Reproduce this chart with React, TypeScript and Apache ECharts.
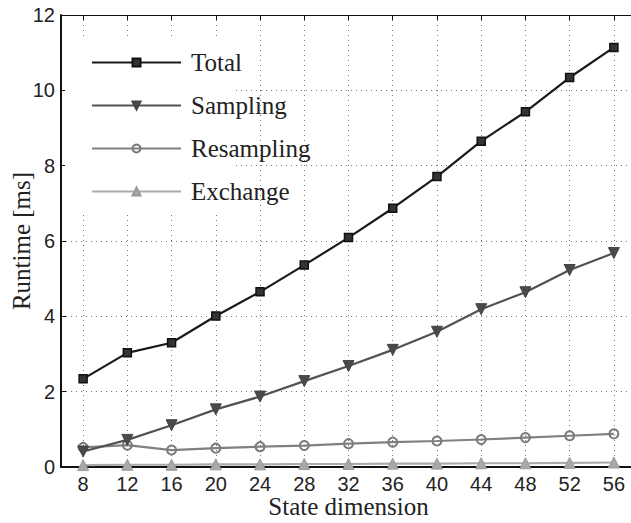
import React, { useEffect, useRef } from "react";
import * as echarts from "echarts";

const xTicks = [8, 12, 16, 20, 24, 28, 32, 36, 40, 44, 48, 52, 56];
const totalVals = [2.34, 3.03, 3.3, 4.01, 4.65, 5.36, 6.09, 6.87, 7.71, 8.65, 9.43, 10.34, 11.14];
const samplingVals = [0.41, 0.72, 1.11, 1.53, 1.87, 2.28, 2.68, 3.11, 3.59, 4.19, 4.64, 5.23, 5.68];
const resamplingVals = [0.52, 0.58, 0.45, 0.5, 0.54, 0.57, 0.62, 0.66, 0.69, 0.73, 0.78, 0.83, 0.88];
const exchangeVals = [0.05, 0.06, 0.06, 0.07, 0.07, 0.08, 0.08, 0.09, 0.09, 0.1, 0.1, 0.11, 0.12];
const seriesNames = ["Total", "Sampling", "Resampling", "Exchange"];

const pair = (vals: number[]) => xTicks.map((x, i) => [x, vals[i]]);

export default function App() {
  const ref = useRef<HTMLDivElement>(null);
  useEffect(() => {
    if (!ref.current) return;
    const chart = echarts.init(ref.current, undefined, { renderer: "svg" });
    const serif = "Liberation Serif";
    const sans = "Liberation Sans";
    const gridLine = { show: true, lineStyle: { color: "#777", type: [1, 4] as any, width: 1 } };
    const baseX = {
      type: "value" as const,
      min: 6,
      max: 58,
      axisLine: { show: true, lineStyle: { color: "#111", width: 2 } },
      axisTick: { show: true, inside: true, length: 5, customValues: xTicks, lineStyle: { color: "#111", width: 1 } },
      splitLine: { show: false },
    };
    chart.setOption({
      animation: false,
      backgroundColor: "#fff",
      grid: { left: 61, top: 15, width: 575, height: 452, containLabel: false, outerBoundsMode: "none" },
      xAxis: [
        {
          ...baseX,
          position: "bottom",
          name: "State dimension",
          nameLocation: "middle",
          nameGap: 27,
          nameMoveOverlap: false,
          nameTextStyle: { fontFamily: serif, fontSize: 25, color: "#222" },
          axisLabel: { show: true, customValues: xTicks, margin: 7, fontFamily: sans, fontSize: 20, color: "#222" },
          splitLine: gridLine,
        },
        {
          ...baseX,
          position: "top",
          axisLine: { show: true, lineStyle: { color: "#111", width: 1.2 } },
          axisLabel: { show: false },
        },
      ],
      yAxis: {
        type: "value",
        min: 0,
        max: 12,
        interval: 2,
        name: "Runtime [ms]",
        nameLocation: "middle",
        nameGap: 27,
        nameMoveOverlap: false,
        nameTextStyle: { fontFamily: serif, fontSize: 25, color: "#222" },
        axisLine: { show: true, lineStyle: { color: "#111", width: 2 } },
        axisTick: { show: true, inside: true, length: 5, lineStyle: { color: "#111", width: 1 } },
        axisLabel: { margin: 6, fontFamily: sans, fontSize: 20, color: "#222" },
        splitLine: gridLine,
      },
      graphic: {
        elements: [
          { type: "rect", z: 1, shape: { x: 65, y: 37, width: 167, height: 176 }, style: { fill: "#fff" } },
        ],
      },
      legend: {
        orient: "vertical",
        left: 91,
        top: 50,
        padding: 0,
        itemGap: 18,
        itemWidth: 89,
        itemHeight: 10,
        data: seriesNames,
        textStyle: { fontFamily: serif, fontSize: 25, color: "#222", lineHeight: 25, padding: [0, 0, 0, 5] },
      },
      series: [
        {
          name: "Total",
          type: "line",
          data: pair(totalVals),
          symbol: "rect",
          symbolSize: 8,
          lineStyle: { color: "#1a1a1a", width: 2.2 },
          itemStyle: { color: "#333", borderColor: "#111", borderWidth: 1.5 },
          z: 5,
        },
        {
          name: "Sampling",
          type: "line",
          data: pair(samplingVals),
          symbol: "triangle",
          symbolRotate: 180,
          symbolSize: 11,
          lineStyle: { color: "#525252", width: 2.2 },
          itemStyle: { color: "#4a4a4a", borderColor: "#444", borderWidth: 1 },
          z: 4,
        },
        {
          name: "Resampling",
          type: "line",
          data: pair(resamplingVals),
          symbol: "circle",
          symbolSize: 9,
          lineStyle: { color: "#808080", width: 2.2 },
          itemStyle: { color: "rgba(255,255,255,0)", borderColor: "#7a7a7a", borderWidth: 2 },
          z: 3,
        },
        {
          name: "Exchange",
          type: "line",
          data: pair(exchangeVals),
          symbol: "triangle",
          symbolSize: 11,
          lineStyle: { color: "#aaaaaa", width: 2.2 },
          itemStyle: { color: "#a8a8a8", borderColor: "#9a9a9a", borderWidth: 1 },
          z: 2,
        },
      ],
    });
    return () => chart.dispose();
  }, []);
  return <div ref={ref} style={{ width: 631, height: 523, position: "absolute", left: 0, top: 0 }} />;
}
